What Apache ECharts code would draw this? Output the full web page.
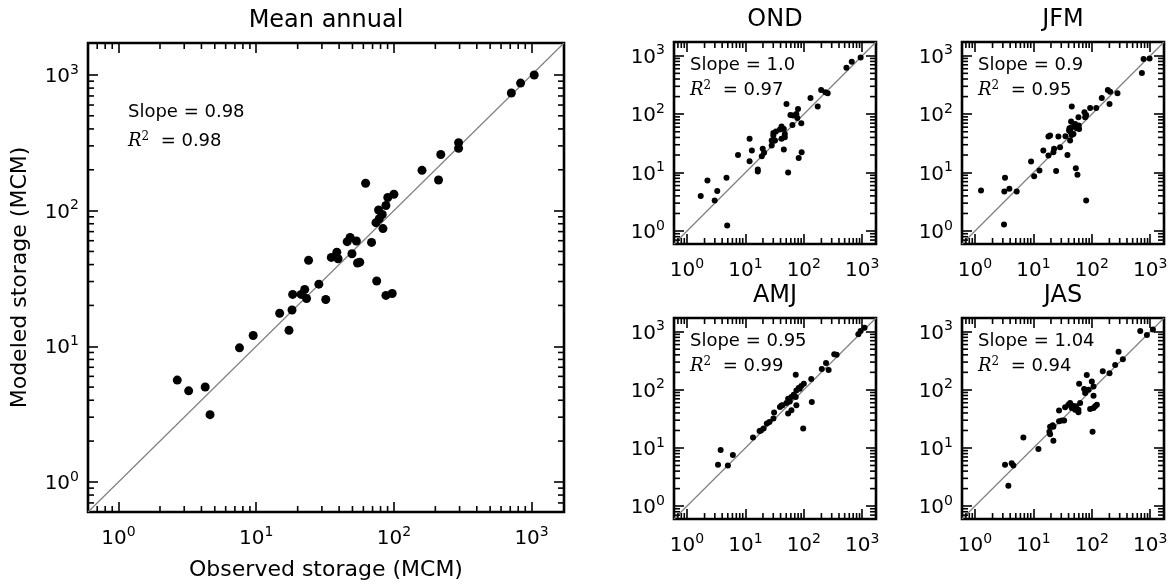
<!DOCTYPE html>
<html><head><meta charset="utf-8">
<script src="https://cdn.jsdelivr.net/npm/echarts@6/dist/echarts.min.js"></script>
<style>html,body{margin:0;padding:0;background:#fff}#c{width:1171px;height:586px}</style>
</head><body><div id="c"></div><script>
// ---------- data ----------
const AX_MIN = 0.6, AX_MAX = 1720;
const MINOR_TICKS = [0.7,0.8,0.9, 2,3,4,5,6,7,8,9, 20,30,40,50,60,70,80,90, 200,300,400,500,600,700,800,900];
const PANEL_TITLES = ['Mean annual', 'OND', 'JFM', 'AMJ', 'JAS'];
const SLOPES = ['0.98', '1.0', '0.9', '0.95', '1.04'];
const R2 = ['0.98', '0.97', '0.95', '0.99', '0.94'];
const X_LABEL = 'Observed storage (MCM)';
const Y_LABEL = 'Modeled storage (MCM)';

// [observed, modeled]
const meanAnnual = [[1045,1000],[832,871],[713,736],[295,317],[295,288],[219,259],[160,198],[211,168],[62.3,159],[100,132],[90.3,125],[87.5,109],[77.4,101],[82.3,93.6],[78.3,87.1],[74.1,81.5],[83.3,73.7],[68.8,58.3],[48.1,63.4],[45.8,59.0],[53.4,59.7],[38.5,49.4],[35.1,45.2],[39.3,44.2],[49.6,48.1],[54.4,41.1],[56.5,41.7],[24.0,43.0],[75.0,30.3],[28.5,28.7],[87.5,23.7],[97.2,24.5],[18.4,24.1],[21.2,24.1],[22.5,26.2],[23.2,22.5],[32.0,22.1],[14.8,17.5],[18.2,18.5],[17.3,13.1],[9.5,12.0],[7.56,9.73],[2.67,5.63],[3.23,4.69],[4.26,5.01],[4.62,3.13]];
const ond = [[938,937],[661,791],[537,624],[198,259],[234,237],[256,228],[130,189],[173,135],[50.5,150],[79.6,123],[74.6,101],[59.0,97],[65.5,94.6],[77.5,86.4],[63.8,65.5],[90.6,69.9],[41.6,61.4],[45.5,56],[39.0,54.6],[33.3,50.4],[30.1,47.8],[47.3,46.0],[30.1,43.1],[47.3,40.3],[41.6,37.8],[32.1,35.4],[28.2,35.4],[28.2,29.1],[45.5,24.8],[11.8,37.8],[12.9,23.9],[19.8,25.5],[20.9,21.8],[19.1,19.1],[11.8,15.7],[7.48,20.1],[16.3,11.3],[16.3,10.4],[53.9,10.0],[81.7,17.7],[91.8,22.3],[4.75,8.15],[2.24,7.34],[3.30,4.83],[1.72,3.96],[2.98,3.34],[4.88,1.25]];
const jfm = [[974,900],[769,877],[720,506],[188,259],[206,243],[275,228],[148,189],[201,150],[45.4,136],[93.6,128],[119,128],[74.8,108],[80,97],[76.9,88.5],[59.1,88.5],[44.2,74.6],[51.8,68.1],[59.8,63.8],[45.4,59.8],[55.3,57.4],[41.4,57.4],[60.6,55.9],[40.8,52.4],[43.6,49.1],[48.5,46],[45.4,44.2],[42.5,35.4],[35.4,42],[26.8,41.4],[18.1,41.4],[19.3,43.1],[28.6,27.2],[22.6,25.5],[22,22.3],[14.8,23.9],[18.1,19.6],[38.3,20.1],[9.12,15.5],[12.7,10.9],[10.3,8.7],[24.5,10.7],[53.2,11.9],[56.8,9.17],[80,3.34],[3.27,8.15],[3.88,5.28],[3.18,4.76],[5.18,4.76],[1.27,4.95],[3.14,1.29]];
const amj = [[1096,1170],[938,1026],[857,901],[364,400],[332,411],[240,289],[266,219],[203,228],[134,154],[72.7,182],[100,127],[90.6,116],[81.7,107],[74.6,97.5],[84.9,104],[67.2,82.2],[72.7,75],[61.4,75],[53.9,70.3],[57.5,63.3],[50.5,59.3],[43.2,54.1],[39,50.7],[41.6,54],[74.6,54.1],[137,61.7],[61.4,44.5],[53.9,39],[31,40.6],[30.2,32.1],[25.8,28.1],[23.3,26.3],[20.5,21.6],[17.5,19.5],[18.5,20],[13.5,15.2],[97.6,21.6],[3.77,9.25],[6.1,7.6],[3.4,5.13],[5.02,5.0]];
const jas = [[1111,1096],[674,1026],[877,877],[287,450],[340,337],[251,267],[154,208],[201,192],[82,180],[100,139],[60.6,127],[107,114],[73.9,103],[87.7,100],[76.9,87.8],[107,79.1],[63.1,59.3],[53.8,52],[59,45.6],[47.2,53.4],[42.5,59.3],[39.8,55.5],[45.4,48.7],[51.8,45.6],[59,41.1],[34.9,50],[27.5,43.9],[30.6,29.6],[33.6,29.6],[27.5,28.9],[93.6,46.8],[107,48.7],[122,55.5],[114,52],[21.4,24.7],[19.3,23.1],[22,23.1],[18.8,19],[19.3,17.3],[22,13.3],[103,19],[6.74,15.2],[12.2,9.6],[3.27,5.13],[4.25,5.48],[4.54,5.0],[3.73,2.25]];

// ---------- layout ----------
const FONT = 'DejaVu Sans';
const panels = [
  {data: meanAnnual, left: 88,  top: 43,  w: 476, h: 476, sym: 9, annFs: 18, annDx: 40, annY1: 76, annY2: 104, main: true},
  {data: ond,        left: 674, top: 42,  w: 202, h: 202, sym: 6, annFs: 18, annDx: 16, annY1: 30, annY2: 54},
  {data: jfm,        left: 962, top: 42,  w: 202, h: 202, sym: 6, annFs: 18, annDx: 16, annY1: 30, annY2: 54},
  {data: amj,        left: 674, top: 318, w: 202, h: 201, sym: 6, annFs: 18, annDx: 16, annY1: 30, annY2: 54},
  {data: jas,        left: 962, top: 318, w: 202, h: 201, sym: 6, annFs: 18, annDx: 16, annY1: 30, annY2: 54}
];

function powLabel(v) {
  const l = Math.log10(v), e = Math.round(l);
  if (Math.abs(l - e) > 1e-6) return '';
  return '{b|10}{s|' + e + '}';
}
const labelRich = {
  b: {fontSize: 20, fontFamily: FONT, color: '#000', lineHeight: 24, verticalAlign: 'bottom'},
  s: {fontSize: 14, fontFamily: FONT, color: '#000', lineHeight: 14, verticalAlign: 'top'}
};
const TICK_W = 1.6, MAJOR_LEN = 10, MINOR_LEN = 6;
const tickStyle = {color: '#000', width: TICK_W};

const grid = [], xAxis = [], yAxis = [], series = [], graphic = [];
panels.forEach((p, i) => {
  grid.push({left: p.left, top: p.top, width: p.w, height: p.h, show: true,
    borderColor: '#000', borderWidth: 2.6, backgroundColor: 'transparent', containLabel: false});
  const base = {type: 'log', logBase: 10, min: AX_MIN, max: AX_MAX, gridIndex: i,
    axisLine: {show: false}, splitLine: {show: false}, minorTick: {show: false},
    axisTick: {show: true, inside: true, length: MAJOR_LEN, lineStyle: tickStyle}};
  xAxis.push(Object.assign({}, base, {position: 'bottom',
    axisLabel: {show: true, margin: 13, formatter: powLabel, rich: labelRich, showMinLabel: false, showMaxLabel: false},
    name: p.main ? X_LABEL : '', nameLocation: 'middle', nameGap: 47,
    nameTextStyle: {fontSize: 22, fontFamily: FONT, color: '#000'}}));
  xAxis.push(Object.assign({}, base, {position: 'top', axisLabel: {show: false}}));
  yAxis.push(Object.assign({}, base, {position: 'left',
    axisLabel: {show: true, margin: 9, formatter: powLabel, rich: labelRich, showMinLabel: false, showMaxLabel: false},
    name: p.main ? Y_LABEL : '', nameLocation: 'middle', nameGap: 57,
    nameTextStyle: {fontSize: 22, fontFamily: FONT, color: '#000'}}));
  yAxis.push(Object.assign({}, base, {position: 'right', axisLabel: {show: false}}));

  const xi = 2 * i, yi = 2 * i;
  // 1:1 line
  series.push({type: 'line', xAxisIndex: xi, yAxisIndex: yi, data: [[AX_MIN, AX_MIN], [AX_MAX, AX_MAX]],
    symbol: 'none', lineStyle: {color: '#808080', width: 1.2}, silent: true, z: 1, animation: false});
  // points
  series.push({type: 'scatter', xAxisIndex: xi, yAxisIndex: yi, data: p.data, symbol: 'circle',
    symbolSize: p.sym, itemStyle: {color: '#000', opacity: 1}, z: 3, animation: false, silent: true});
  // minor ticks on all four sides (short inward rects placed on the frame)
  const sides = [
    {d: MINOR_TICKS.map(v => [v, AX_MIN]), size: [TICK_W, MINOR_LEN], off: [0, -MINOR_LEN / 2]},
    {d: MINOR_TICKS.map(v => [v, AX_MAX]), size: [TICK_W, MINOR_LEN], off: [0, MINOR_LEN / 2]},
    {d: MINOR_TICKS.map(v => [AX_MIN, v]), size: [MINOR_LEN, TICK_W], off: [MINOR_LEN / 2, 0]},
    {d: MINOR_TICKS.map(v => [AX_MAX, v]), size: [MINOR_LEN, TICK_W], off: [-MINOR_LEN / 2, 0]}
  ];
  sides.forEach(s => series.push({type: 'scatter', xAxisIndex: xi, yAxisIndex: yi, data: s.d,
    symbol: 'rect', symbolSize: s.size, symbolOffset: s.off, clip: false,
    itemStyle: {color: '#000', opacity: 1}, z: 4, silent: true, animation: false}));

  // panel title
  graphic.push({type: 'text', x: p.left + p.w / 2, y: p.top - 22, silent: true,
    style: {text: PANEL_TITLES[i], fontSize: 24, fontFamily: FONT, fill: '#000',
      align: 'center', verticalAlign: 'middle', textAlign: 'center', textVerticalAlign: 'middle'}});
  // annotations
  const fs = p.annFs;
  graphic.push({type: 'text', x: p.left + p.annDx, y: p.top + p.annY1 - 0.36 * fs, silent: true, z: 10,
    style: {text: 'Slope = ' + SLOPES[i], fontSize: fs, fontFamily: FONT, fill: '#000',
      align: 'left', verticalAlign: 'middle', textAlign: 'left', textVerticalAlign: 'middle'}});
  graphic.push({type: 'text', x: p.left + p.annDx, y: p.top + p.annY2 - 0.36 * fs, silent: true, z: 10,
    style: {text: '{r|R}{s|2}{t|  = ' + R2[i] + '}', align: 'left', verticalAlign: 'middle',
      textAlign: 'left', textVerticalAlign: 'middle',
      rich: {
        r: {fontSize: fs, fontFamily: 'DejaVu Serif', fontStyle: 'italic', fill: '#000', lineHeight: fs + 2, verticalAlign: 'bottom'},
        s: {fontSize: Math.round(fs * 0.65), fontFamily: 'DejaVu Serif', fill: '#000', lineHeight: Math.round(fs * 0.65), verticalAlign: 'top'},
        t: {fontSize: fs, fontFamily: FONT, fill: '#000', lineHeight: fs + 2, verticalAlign: 'bottom'}
      }}});
});

const chart = echarts.init(document.getElementById('c'), null, {renderer: 'canvas'});
chart.setOption({animation: false, backgroundColor: '#fff', grid, xAxis, yAxis, series, graphic});
</script></body></html>
